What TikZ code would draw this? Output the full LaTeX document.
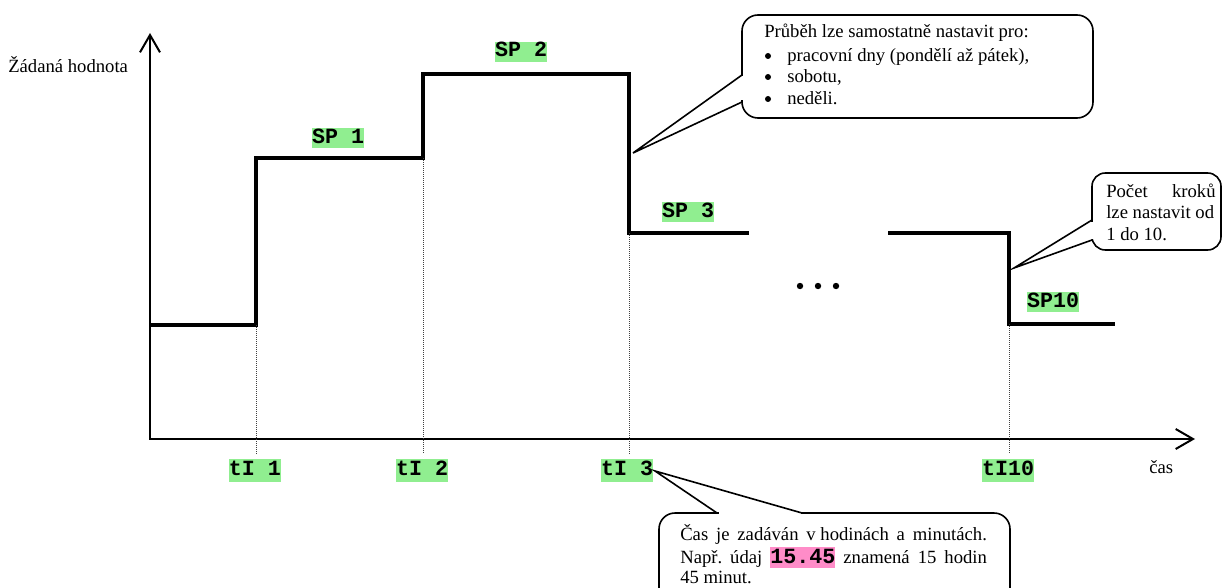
\documentclass[tikz,border=0pt]{standalone}
\usepackage{fontspec}
\setmainfont{Liberation Serif}
\newfontfamily\monofam{Liberation Mono}
\usetikzlibrary{arrows.meta}
\definecolor{hlgreen}{RGB}{144,238,144}
\definecolor{hlpink}{RGB}{255,140,200}
\newcommand\hlnum[1]{{\setlength{\fboxsep}{0pt}\colorbox{hlpink}{\rule[-3.75pt]{0pt}{15.75pt}\monofam\bfseries\fontsize{16.25}{18}\selectfont #1}}}
\frenchspacing
\begin{document}
\begin{tikzpicture}[x=0.75pt,y=-0.75pt,
  every node/.style={font=\fontsize{14}{16.6}\selectfont, inner sep=0pt},
  lbl/.style={fill=hlgreen, font=\monofam\bfseries\fontsize{16.25}{18}\selectfont, inner sep=0pt, text height=11.5pt, text depth=4pt},
  tlbl/.style={lbl, text height=12.5pt, text depth=4.75pt},
  txt/.style={anchor=base west},
  axisline/.style={line width=1.5pt, {Straight Barb[length=13pt,width=15pt]}-{Straight Barb[length=13pt,width=15pt]}},
  stepline/.style={line width=3pt},
  guide/.style={line width=0.6pt, dash pattern=on 0.75pt off 0.75pt, black!75},
  callout/.style={line width=1.2pt},
  erase/.style={fill=white},
  bulletdot/.style={fill=black},
]
\useasboundingbox (0,0) rectangle (1223,588);
\begin{scope}
\clip (0,0) rectangle (1223,588);

% axes
\coordinate (O) at (150,439);
\coordinate (ytop) at (150,33);
\coordinate (xend) at (1195,439);
\draw[axisline] (ytop) -- (O) -- (xend);
\node[txt] (ylab) at (8,73) {Žádaná hodnota};
\node[txt] (xlab) at (1149,473) {čas};

% step profile
\coordinate (s0) at (150,325);
\coordinate (s1) at (256,325);
\coordinate (s2) at (256,158);
\coordinate (s3) at (423,158);
\coordinate (s4) at (423,74);
\coordinate (s5) at (629,74);
\coordinate (s6) at (629,233);
\coordinate (s7) at (749,233);
\coordinate (s8) at (888,233);
\coordinate (s9) at (1009,233);
\coordinate (s10) at (1009,324);
\coordinate (s11) at (1115,324);
\draw[stepline] (s0) -- (s1) -- (s2) -- (s3) -- (s4) -- (s5) -- (s6) -- (s7);
\draw[stepline] (s8) -- (s9) -- (s10) -- (s11);

% guides
\coordinate (g1) at (256,454);
\coordinate (g2) at (423,454);
\coordinate (g3) at (629,454);
\coordinate (g4) at (1009,454);
\draw[guide] (s1) -- (g1);
\draw[guide] (s3) -- (g2);
\draw[guide] (s6) -- (g3);
\draw[guide] (s10) -- (g4);

% ellipsis dots
\fill (800,286) circle (3.2);
\fill (818,286) circle (3.2);
\fill (836,286) circle (3.2);

% labels
\node[lbl] (sp1) at (338,138) {SP 1};
\node[lbl] (sp2) at (521,52) {SP 2};
\node[lbl] (sp3) at (688,212) {SP 3};
\node[lbl] (sp10) at (1053,302) {SP10};
\node[tlbl] (t1) at (255,470) {tI 1};
\node[tlbl] (t2) at (422,470) {tI 2};
\node[tlbl] (t3) at (627,470) {tI 3};
\node[tlbl] (t10) at (1008,470) {tI10};

% callout 1
\coordinate (tip1) at (633,153);
\coordinate (b1a) at (742,75);
\coordinate (b1b) at (742,102);
\draw[callout, rounded corners=12pt] (742,15) rectangle (1093,118);
\fill[erase] (739,76.5) rectangle (746,100.5);
\draw[callout] (b1a) -- (tip1) -- (b1b);
\node[txt] (c1a) at (764,38) {Průběh lze samostatně nastavit pro:};
\node[txt] (c1b) at (787,62) {pracovní dny (pondělí až pátek),};
\node[txt] (c1c) at (787,83) {sobotu,};
\node[txt] (c1d) at (787,105) {neděli.};
\fill[bulletdot] (768,56) circle (3);
\fill[bulletdot] (768,77) circle (3);
\fill[bulletdot] (768,99) circle (3);

% callout 2
\coordinate (tip2) at (1014,268);
\coordinate (b2a) at (1092,220);
\coordinate (b2b) at (1092,240);
\draw[callout, rounded corners=10pt] (1092,173) rectangle (1221,250);
\fill[erase] (1089,221.5) rectangle (1096,238.5);
\draw[callout] (b2a) -- (tip2) -- (b2b);
\node[txt] (c2a) at (1106,197) {\makebox[82pt][s]{Počet kroků}};
\node[txt] (c2b) at (1106,218) {lze nastavit od};
\node[txt] (c2c) at (1106,240) {1 do 10.};

% callout 3
\coordinate (tip3) at (655,471);
\coordinate (b3a) at (717,513);
\coordinate (b3b) at (802,513);
\draw[callout, rounded corners=12pt] (659,513) rectangle (1010,620);
\fill[erase] (718.5,510) rectangle (800.5,516);
\draw[callout] (b3a) -- (tip3) -- (b3b);
\node[txt] (c3a) at (680,540) {\makebox[230pt][s]{Čas je zadáván v\kern3.5pt hodinách a minutách.}};
\node[txt] (c3b) at (680,563) {\makebox[230pt][s]{Např. údaj \hlnum{15.45} znamená 15 hodin}};
\node[txt] (c3c) at (680,583) {45 minut.};
\end{scope}
\end{tikzpicture}
\end{document}
